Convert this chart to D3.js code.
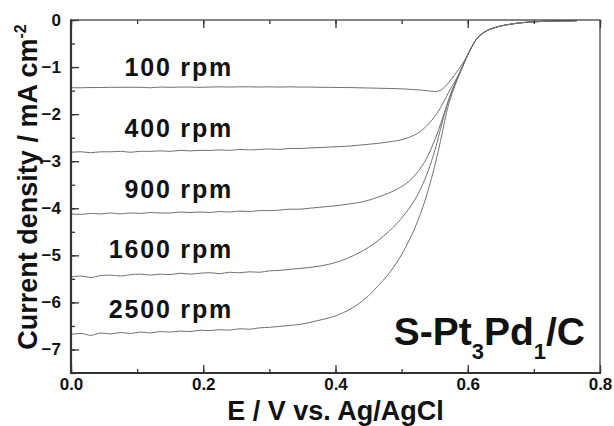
<!DOCTYPE html>
<html>
<head>
<meta charset="utf-8">
<script src="https://cdn.jsdelivr.net/npm/d3@7"></script>
<style>
  html, body { margin: 0; padding: 0; background: #fff; }
  svg text { font-family: "Liberation Sans", Arial, Helvetica, sans-serif; font-weight: bold; fill: #111; }
</style>
</head>
<body>
<svg id="chart" width="614" height="426"></svg>
<script>
// ---------- data ----------
const potential = [
  0.000,0.015,0.030,0.045,0.060,0.075,0.090,0.105,0.120,0.135,0.150,0.165,0.180,0.195,0.210,0.225,
  0.240,0.255,0.270,0.285,0.300,0.315,0.330,0.345,0.360,0.375,0.390,0.405,0.420,0.435,0.450,
  0.465,0.480,0.495,0.510,0.520,0.530,0.540,0.550,0.556,0.562,0.568,0.574,0.580,0.586,0.592,0.598,
  0.605,0.612,0.620,0.630,0.645,0.660,0.680,0.700,0.730,0.765
];
const tail = [-0.60,-0.43,-0.31,-0.22,-0.145,-0.10,-0.06,-0.038,-0.022,-0.015];

const rpm100 = [
  -1.44,-1.44,-1.435,-1.435,-1.43,-1.43,-1.43,-1.43,-1.44,-1.425,-1.43,-1.425,-1.425,-1.43,-1.425,-1.42,
  -1.425,-1.42,-1.42,-1.425,-1.42,-1.425,-1.42,-1.425,-1.425,-1.43,-1.43,-1.435,-1.435,-1.44,-1.445,
  -1.45,-1.455,-1.46,-1.47,-1.48,-1.49,-1.505,-1.52,-1.51,-1.46,-1.38,-1.28,-1.17,-1.05,-0.93,-0.79
].concat(tail);
const rpm400 = [
  -2.81,-2.80,-2.82,-2.80,-2.80,-2.79,-2.81,-2.79,-2.79,-2.78,-2.79,-2.77,-2.78,-2.77,-2.77,-2.76,
  -2.77,-2.75,-2.76,-2.75,-2.74,-2.75,-2.73,-2.73,-2.72,-2.71,-2.70,-2.69,-2.68,-2.66,-2.64,
  -2.62,-2.59,-2.56,-2.50,-2.44,-2.35,-2.22,-2.05,-1.93,-1.78,-1.62,-1.46,-1.32,-1.16,-0.98,-0.80
].concat(tail);
const rpm900 = [
  -4.12,-4.13,-4.11,-4.12,-4.10,-4.12,-4.10,-4.11,-4.09,-4.10,-4.10,-4.08,-4.09,-4.08,-4.09,-4.07,
  -4.08,-4.06,-4.07,-4.05,-4.05,-4.04,-4.02,-4.02,-4.00,-3.98,-3.96,-3.94,-3.91,-3.88,-3.83,
  -3.76,-3.68,-3.58,-3.44,-3.30,-3.12,-2.88,-2.55,-2.33,-2.08,-1.83,-1.58,-1.37,-1.18,-0.99,-0.80
].concat(tail);
const rpm1600 = [
  -5.46,-5.44,-5.47,-5.43,-5.42,-5.44,-5.41,-5.40,-5.42,-5.40,-5.41,-5.38,-5.40,-5.38,-5.37,-5.39,
  -5.36,-5.37,-5.35,-5.36,-5.33,-5.32,-5.30,-5.28,-5.26,-5.23,-5.19,-5.13,-5.05,-4.95,-4.83,
  -4.68,-4.50,-4.29,-4.03,-3.82,-3.55,-3.21,-2.78,-2.47,-2.14,-1.84,-1.59,-1.39,-1.19,-1.00,-0.80
].concat(tail);
const rpm2500 = [
  -6.68,-6.66,-6.70,-6.65,-6.67,-6.64,-6.66,-6.63,-6.65,-6.62,-6.63,-6.61,-6.62,-6.59,-6.60,-6.58,
  -6.59,-6.56,-6.57,-6.54,-6.53,-6.51,-6.49,-6.47,-6.43,-6.38,-6.33,-6.26,-6.16,-6.03,-5.86,
  -5.64,-5.40,-5.10,-4.72,-4.42,-4.06,-3.62,-3.10,-2.75,-2.36,-1.96,-1.66,-1.42,-1.20,-1.00,-0.80
].concat(tail);

const seriesNames = ["100 rpm","400 rpm","900 rpm","1600 rpm","2500 rpm"];
const seriesValues = [rpm100, rpm400, rpm900, rpm1600, rpm2500];
const labelCurrent = [-1.18, -2.48, -3.78, -5.06, -6.34];   // label baseline levels (mA cm-2)
const xTicks = [0.0, 0.2, 0.4, 0.6, 0.8];
const yTicks = [0, -1, -2, -3, -4, -5, -6, -7];

// ---------- layout ----------
const svg = d3.select("#chart");
const L = 71, R = 600, T = 20, B = 373;
const x = d3.scaleLinear().domain([0, 0.8]).range([L, R]);
const y = d3.scaleLinear().domain([-7.5, 0]).range([B, T]);

// curves
const line = d3.line().x(d => x(d[0])).y(d => y(d[1])).curve(d3.curveMonotoneX);
seriesValues.forEach(vals => {
  svg.append("path")
    .datum(potential.map((e, i) => [e, vals[i]]))
    .attr("d", line)
    .attr("fill", "none")
    .attr("stroke", "#707070")
    .attr("stroke-width", 1);
});

// axes
const minorX = d3.range(0, 0.801, 0.1);
const minorY = d3.range(0, -7.51, -0.5);
const axisColor = "#333";
const gBottom = svg.append("g").attr("transform", `translate(0,${B})`)
  .call(d3.axisBottom(x).tickValues(minorX).tickSize(-4).tickFormat(""));
const gBottomMajor = svg.append("g").attr("transform", `translate(0,${B})`)
  .call(d3.axisBottom(x).tickValues(xTicks).tickSize(-8).tickPadding(5).tickFormat(d3.format(".1f")));
const gTop = svg.append("g").attr("transform", `translate(0,${T})`)
  .call(d3.axisTop(x).tickValues(minorX).tickSize(-4).tickFormat(""));
const gTopMajor = svg.append("g").attr("transform", `translate(0,${T})`)
  .call(d3.axisTop(x).tickValues(xTicks).tickSize(-8).tickFormat(""));
const gLeft = svg.append("g").attr("transform", `translate(${L},0)`)
  .call(d3.axisLeft(y).tickValues(minorY).tickSize(-4).tickFormat(""));
const gLeftMajor = svg.append("g").attr("transform", `translate(${L},0)`)
  .call(d3.axisLeft(y).tickValues(yTicks).tickSize(-8).tickPadding(10).tickFormat(d3.format("d")));

[gBottom, gBottomMajor, gTop, gTopMajor, gLeft, gLeftMajor].forEach(g => {
  g.select(".domain").remove();
  g.selectAll(".tick line").attr("stroke", axisColor).attr("stroke-width", 1.3);
  g.selectAll(".tick text").attr("font-size", 17).attr("fill", "#111")
    .attr("font-family", "'Liberation Sans', Arial, sans-serif").attr("font-weight", "bold");
});
svg.append("rect").attr("x", L).attr("y", T).attr("width", R - L).attr("height", B - T)
  .attr("fill", "none").attr("stroke", "#444").attr("stroke-width", 1.3);
svg.append("line").attr("x1", L).attr("x2", L).attr("y1", T - 0.6).attr("y2", B + 1)
  .attr("stroke", axisColor).attr("stroke-width", 2.2);
svg.append("line").attr("x1", L - 1).attr("x2", R + 1).attr("y1", B).attr("y2", B)
  .attr("stroke", axisColor).attr("stroke-width", 2.2);

// curve labels
seriesNames.forEach((name, i) => {
  svg.append("text")
    .attr("x", 233).attr("y", y(labelCurrent[i]))
    .attr("text-anchor", "end")
    .attr("font-size", 25)
    .attr("letter-spacing", "1.8px")
    .text(name);
});

// sample label
const sample = svg.append("text").attr("x", 585).attr("y", 345)
  .attr("text-anchor", "end").attr("font-size", 39);
sample.append("tspan").text("S-Pt");
sample.append("tspan").attr("font-size", 22).attr("dy", 14).text("3");
sample.append("tspan").attr("dy", -14).text("Pd");
sample.append("tspan").attr("font-size", 22).attr("dy", 14).text("1");
sample.append("tspan").attr("dy", -14).text("/C");

// axis titles
svg.append("text").attr("x", (L + R) / 2).attr("y", 420)
  .attr("text-anchor", "middle").attr("font-size", 27)
  .text("E / V vs. Ag/AgCl");

const yt = svg.append("text")
  .attr("transform", "translate(37,187) rotate(-90)")
  .attr("text-anchor", "middle").attr("font-size", 27);
yt.append("tspan").text("Current density / mA cm");
yt.append("tspan").attr("font-size", 16).attr("dy", -11).text("-2");
</script>
</body>
</html>
